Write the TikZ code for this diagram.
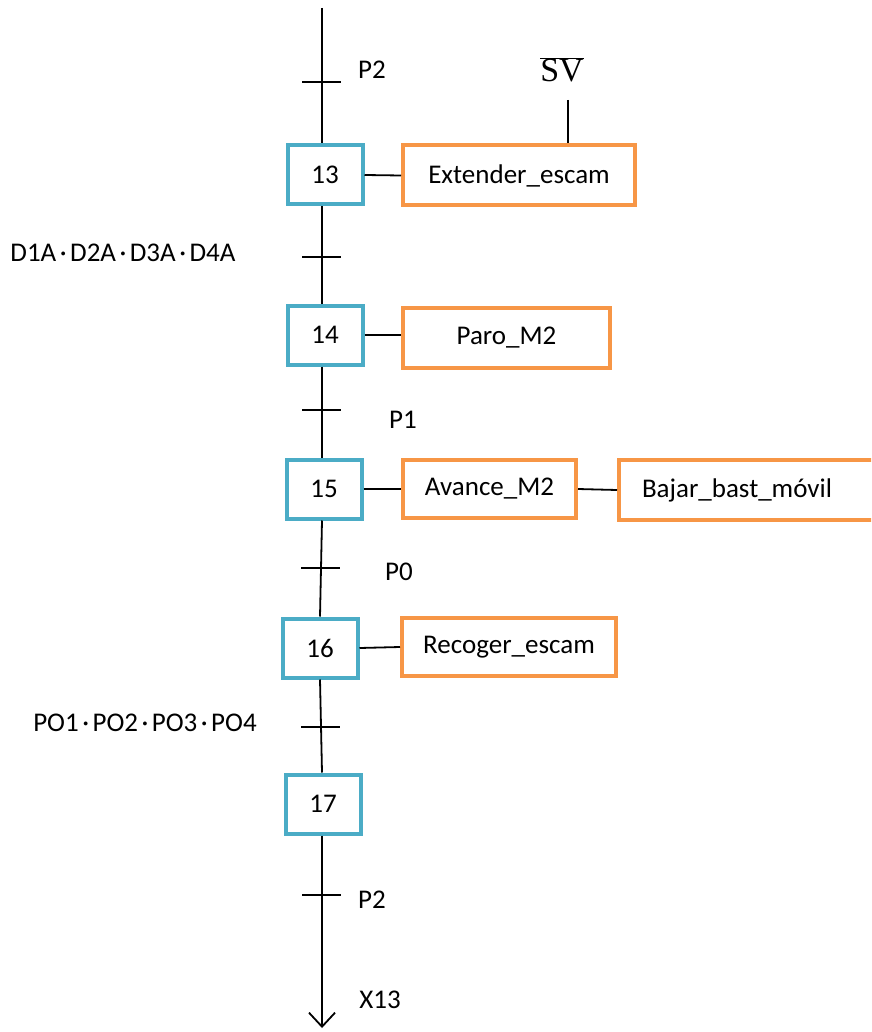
\documentclass[tikz,border=0pt]{standalone}
\usepackage{fontspec}
\setmainfont{Carlito}
\newfontfamily\svfont{Liberation Serif}
\usetikzlibrary{arrows.meta}
\definecolor{stepblue}{HTML}{4BACC6}
\definecolor{actorange}{HTML}{F79646}
\newcommand{\andsep}{\hspace{3.5pt}·\hspace{3.5pt}}
\begin{document}
\begin{tikzpicture}[x=1pt,y=-1pt,
  every node/.style={font=\fontsize{27}{32}\selectfont},
  stepbox/.style={draw=stepblue,line width=4pt,minimum width=75pt,minimum height=59pt,inner sep=0pt},
  actbox/.style={draw=actorange,line width=4pt,minimum height=60pt,inner sep=0pt},
  link/.style={line width=1.8pt},
  tick/.style={line width=1.6pt},
  lbl/.style={inner sep=0pt}]
\useasboundingbox (0,0) rectangle (871,1032);
\clip (0,0) rectangle (871,1032);

% steps
\node[stepbox] (s13) at (325,175) {13};
\node[stepbox] (s14) at (325,335) {14};
\node[stepbox] (s15) at (324,489) {15};
\node[stepbox] (s16) at (320,648) {16};
\node[stepbox] (s17) at (323,804) {17};

% actions
\node[actbox,minimum width=232pt] (a13) at (519,175.5) {Extender\_escam};
\node[actbox,minimum width=207pt] (a14) at (506.5,337.5) {Paro\_M2};
\node[actbox,minimum width=173pt,minimum height=58pt] (a15) at (489.5,489) {Avance\_M2};
\node[actbox,anchor=west,text width=230pt,inner xsep=23pt,align=left] (b15) at (617,490) {Bajar\_bast\_móvil};
\node[actbox,minimum width=214pt,minimum height=58pt] (a16) at (509,647) {Recoger\_escam};

% top and bottom ends of the sequence
\coordinate (top) at (322,8);
\coordinate (ret) at (322,1028);
\coordinate (sv) at (568,100);

% vertical links
\draw[link] (top) -- (top |- s13.north);
\draw[link] (s13.south -| top) -- (s14.north -| top);
\draw[link] (s14.south -| top) -- (s15.north -| top);
\draw[link] (s15.south -| top) -- (s16.north);
\draw[link] (s16.south) -- (s17.north -| top);
\draw[link,-{Straight Barb[length=14pt,width=26pt,line width=1.8pt]}] (s17.south -| top) -- (ret);

% step to action links
\draw[link] (s13.east) -- (a13.west);
\draw[link] (s14.east) -- (s14.east -| a14.west);
\draw[link] (s15.east) -- (a15.west);
\draw[link] (a15.east) -- (b15.west);
\draw[link] (s16.east) -- (a16.west);
\draw[link] (sv) -- (sv |- a13.north);

% transitions
\foreach \n/\x/\y in {t1/322/82, t2/322/257, t3/322/410, t4/321/568, t5/321/727, t6/322/895}{
  \coordinate (\n) at (\x,\y);
  \draw[tick] (\n) ++(-20,0) -- ++(39,0);
}

% receptivities
\node[lbl] (r1) at (372,70) {P2};
\node[lbl,font=\fontsize{34}{40}\selectfont] (rsv) at (562,70) {$\overline{\hbox{\svfont SV}}$};
\node[lbl] (r2) at (123,253) {D1A\andsep D2A\andsep D3A\andsep D4A};
\node[lbl] (r3) at (403,420) {P1};
\node[lbl] (r4) at (399,572) {P0};
\node[lbl] (r5) at (145,723) {PO1\andsep PO2\andsep PO3\andsep PO4};
\node[lbl] (r6) at (372,900) {P2};
\node[lbl] (r7) at (380,1000) {X13};
\end{tikzpicture}
\end{document}
